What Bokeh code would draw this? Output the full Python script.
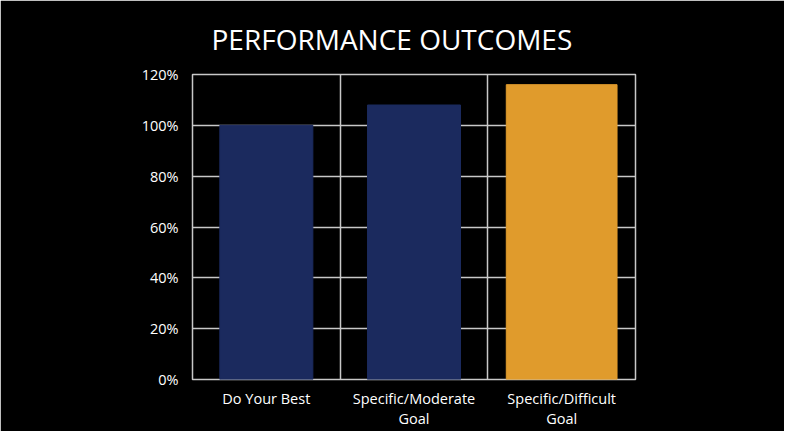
from bokeh.plotting import figure
from bokeh.models import FixedTicker, Range1d, Title, ColumnDataSource, NumeralTickFormatter
from bokeh.embed import file_html
from bokeh.resources import INLINE

categories = ["Do Your Best", "Specific/Moderate\nGoal", "Specific/Difficult\nGoal"]
values = [1.00, 1.08, 1.16]
colors = ["#1b2a5e", "#1b2a5e", "#e09b2c"]
y_ticks = [0, 0.2, 0.4, 0.6, 0.8, 1.0, 1.2]

xs = [i + 0.5 for i in range(len(categories))]
widths = [0.63, 0.63, 0.75]
src = ColumnDataSource(dict(x=xs, top=values, color=colors, w=widths))

FONT = "Open Sans"
p = figure(width=784, height=431, output_backend="svg", toolbar_location=None,
           x_range=Range1d(0, 3), y_range=Range1d(0, 1.2),
           background_fill_color="black", border_fill_color="black",
           min_border_left=192, min_border_right=149, min_border_top=72, min_border_bottom=51)
p.outline_line_color = "#c8c8c8"
p.outline_line_width = 1.5

p.vbar(x="x", top="top", width="w", color="color", source=src)

p.title = Title(text="PERFORMANCE OUTCOMES", align="left", text_color="white",
                text_font=FONT, text_font_size="28px", text_font_style="normal",
                offset=19, standoff=34)

p.xaxis.ticker = FixedTicker(ticks=xs)
p.xaxis.major_label_overrides = {x: c for x, c in zip(xs, categories)}
p.yaxis.ticker = FixedTicker(ticks=y_ticks)
p.yaxis.formatter = NumeralTickFormatter(format="0%")
for ax in (p.xaxis[0], p.yaxis[0]):
    ax.axis_line_color = None
    ax.major_tick_line_color = None
    ax.minor_tick_line_color = None
    ax.major_label_text_color = "white"
    ax.major_label_text_font = FONT
    ax.major_label_text_font_size = "14.5px"
p.xaxis.major_label_text_line_height = 1.1
p.yaxis.major_label_standoff = 8
p.xaxis.major_label_standoff = 3

p.xgrid.ticker = FixedTicker(ticks=[1, 2])
p.ygrid.ticker = FixedTicker(ticks=y_ticks)
for g in (p.xgrid[0], p.ygrid[0]):
    g.grid_line_color = "#c8c8c8"
    g.grid_line_width = 1.5
    g.level = "underlay"

open("out.html", "w").write(file_html(p, INLINE))
